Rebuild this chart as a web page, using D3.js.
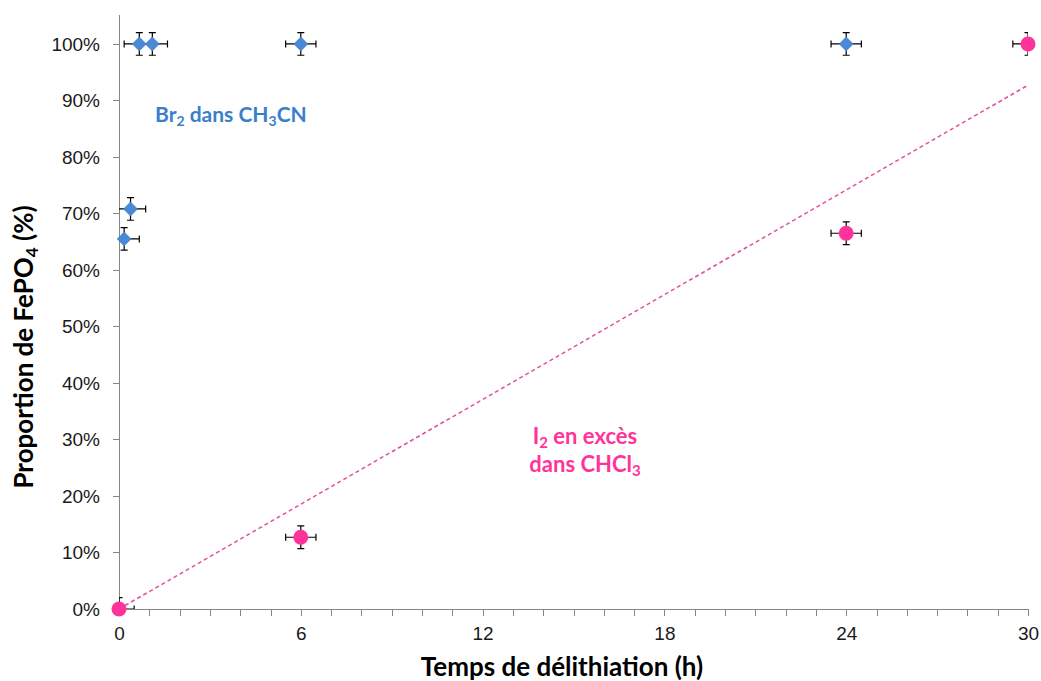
<!DOCTYPE html>
<meta charset="utf-8">
<script src="https://cdn.jsdelivr.net/npm/d3@7"></script>
<style type="text/css">
  body { margin: 0; background: #fff; }
  svg { font-family: Lato, "Open Sans", sans-serif; }
  .axis path, .axis line { stroke: #868686; stroke-width: 1; shape-rendering: crispEdges; }
  .axis text { fill: #1a1a1a; font-size: 19px; }
  .err { stroke: #000; stroke-width: 1.2; fill: none; }
</style>
<body>
<script>

// Br2 dans CH3CN (diamonds)
var brTime = [0.17, 0.38, 0.67, 1.1, 6, 24];
var brProp = [0.655, 0.708, 1, 1, 1, 1];

// I2 en excès dans CHCl3 (circles)
var i2Time = [0, 6, 24, 30];
var i2Prop = [0, 0.127, 0.665, 1];

// error bars: +/- 0.5 h and +/- 2 %
var xErr = 0.5, yErr = 0.02;

// linear trendline of the I2 series (end points)
var trendTime = [0, 30];
var trendProp = [0, 0.927];

var xTicks = d3.range(0, 31, 1);
var xLabels = [0, 6, 12, 18, 24, 30];
var yTicks = d3.range(0, 11).map(d => d / 10);

var W = 1041, H = 681;
var margin = {top: 14, right: 13, bottom: 72, left: 119};

var svg = d3.select("body").append("svg")
    .attr("width", W)
    .attr("height", H);

var xScale = d3.scaleLinear().domain([0, 30]).range([margin.left, W - margin.right]);
var yScale = d3.scaleLinear().domain([0, 1.053]).range([H - margin.bottom, margin.top]);

svg.append("clipPath").attr("id", "plot")
  .append("rect")
    .attr("x", xScale(0)).attr("y", yScale(1.053))
    .attr("width", xScale(30) - xScale(0))
    .attr("height", yScale(0) - yScale(1.053));

// axes
var xAxis = d3.axisBottom(xScale)
    .tickValues(xTicks)
    .tickFormat(d => xLabels.indexOf(d) >= 0 ? d : "")
    .tickSize(7).tickSizeOuter(0).tickPadding(11);

var yAxis = d3.axisLeft(yScale)
    .tickValues(yTicks)
    .tickFormat(d3.format(".0%"))
    .tickSize(6).tickSizeOuter(0).tickPadding(13);

svg.append("g").attr("class", "axis")
    .attr("transform", `translate(0,${yScale(0)})`)
    .call(xAxis);

svg.append("g").attr("class", "axis")
    .attr("transform", `translate(${xScale(0)},0)`)
    .call(yAxis);

// trendline
svg.append("path")
    .datum(trendTime.map((t, i) => [t, trendProp[i]]))
    .attr("d", d3.line().x(d => xScale(d[0])).y(d => yScale(d[1])))
    .style("stroke", "#e0509f")
    .style("stroke-width", 1.5)
    .style("stroke-dasharray", "4,3")
    .style("fill", "none");

function errorBars(times, props) {
    var g = svg.append("g").attr("clip-path", "url(#plot)");
    var pts = times.map((t, i) => ({t: t, p: props[i]}));
    var cap = 3.5;
    pts.forEach(d => {
        var cx = xScale(d.t), cy = yScale(d.p);
        var x0 = xScale(d.t - xErr), x1 = xScale(d.t + xErr);
        var y0 = yScale(d.p + yErr), y1 = yScale(d.p - yErr);
        g.append("path").attr("class", "err")
            .attr("d", `M${x0},${cy}H${x1}M${x0},${cy - cap}V${cy + cap}M${x1},${cy - cap}V${cy + cap}` +
                       `M${cx},${y0}V${y1}M${cx - cap},${y0}H${cx + cap}M${cx - cap},${y1}H${cx + cap}`);
    });
}

errorBars(brTime, brProp);
errorBars(i2Time, i2Prop);

// markers
svg.append("g").selectAll("path")
    .data(brTime.map((t, i) => ({t: t, p: brProp[i]})))
    .join("path")
    .attr("transform", d => `translate(${xScale(d.t)},${yScale(d.p)})`)
    .attr("d", "M0,-7L7,0L0,7L-7,0Z")
    .style("fill", "#4a89d6")
    .style("stroke", "#3f7cc6")
    .style("stroke-width", 0.6);

svg.append("g").selectAll("circle")
    .data(i2Time.map((t, i) => ({t: t, p: i2Prop[i]})))
    .join("circle")
    .attr("cx", d => xScale(d.t))
    .attr("cy", d => yScale(d.p))
    .attr("r", 7.5)
    .style("fill", "#ff3399");

// series labels
var brLabel = svg.append("text")
    .attr("x", 155).attr("y", 122)
    .style("font-size", "21px").style("font-weight", "bold")
    .style("fill", "#3a7fcc");
brLabel.append("tspan").text("Br");
brLabel.append("tspan").text("2").attr("dy", 4).style("font-size", "14px");
brLabel.append("tspan").text(" dans CH").attr("dy", -4);
brLabel.append("tspan").text("3").attr("dy", 4).style("font-size", "14px");
brLabel.append("tspan").text("CN").attr("dy", -4);

var i2Label = svg.append("text")
    .attr("text-anchor", "middle")
    .style("font-size", "22px").style("font-weight", "bold")
    .style("fill", "#ff3399");
var l1 = i2Label.append("tspan").attr("x", 585).attr("y", 444);
l1.append("tspan").text("I");
l1.append("tspan").text("2").attr("dy", 4).style("font-size", "15px");
l1.append("tspan").text(" en excès").attr("dy", -4);
var l2 = i2Label.append("tspan").attr("x", 585).attr("y", 472);
l2.append("tspan").text("dans CHCl");
l2.append("tspan").text("3").attr("dy", 4).style("font-size", "15px");

// axis titles
svg.append("text")
    .attr("x", 562).attr("y", 676)
    .attr("text-anchor", "middle")
    .style("font-size", "26px").style("font-weight", "bold")
    .style("fill", "#000")
    .text("Temps de délithiation (h)");

var yTitle = svg.append("text")
    .attr("transform", "translate(33,347) rotate(-90)")
    .attr("text-anchor", "middle")
    .style("font-size", "26px").style("font-weight", "bold")
    .style("fill", "#000");
yTitle.append("tspan").text("Proportion de FePO");
yTitle.append("tspan").text("4").attr("dy", 5).style("font-size", "17px");
yTitle.append("tspan").text(" (%)").attr("dy", -5);

</script>
</body>
</html>
